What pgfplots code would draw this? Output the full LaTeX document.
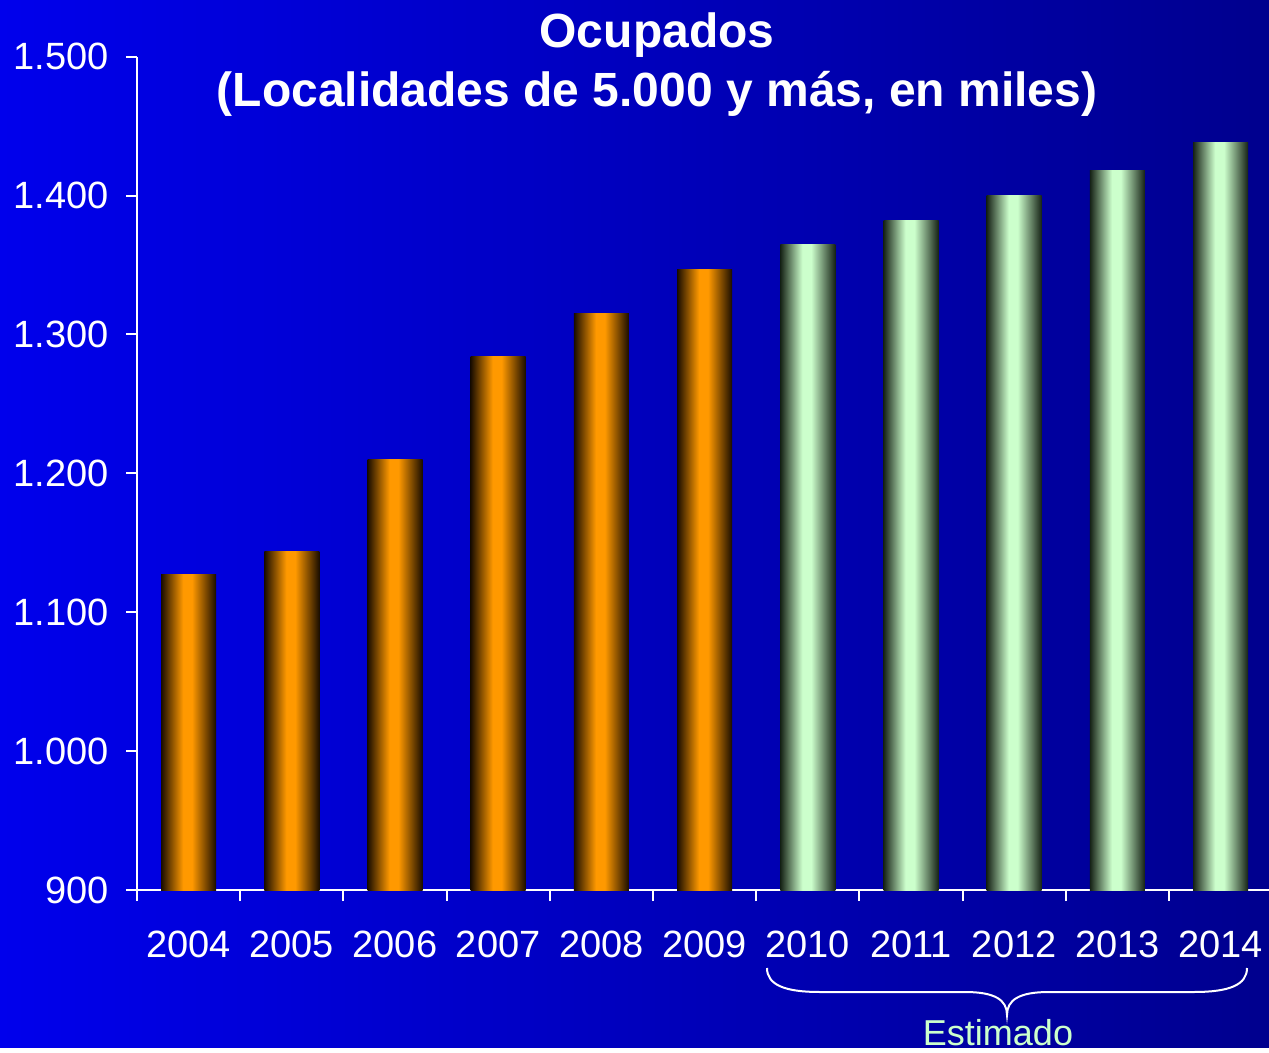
\documentclass[border=0pt]{standalone}
\usepackage{pgfplots}
\pgfplotsset{compat=1.18}
\usepackage{fontspec}
\setmainfont{Liberation Sans}
\definecolor{bgL}{RGB}{0,0,236}
\definecolor{bgR}{RGB}{0,0,142}
\definecolor{orng}{RGB}{255,153,0}
\definecolor{odark}{RGB}{26,13,0}
\definecolor{lgreen}{RGB}{204,255,204}
\definecolor{gdark}{RGB}{22,34,22}
\pgfdeclarehorizontalshading{orangebar}{100bp}{color(0bp)=(odark); color(25bp)=(odark); color(45bp)=(orng); color(53bp)=(orng); color(75bp)=(odark); color(100bp)=(odark)}
\pgfdeclarehorizontalshading{greenbar}{100bp}{color(0bp)=(gdark); color(25bp)=(gdark); color(45bp)=(lgreen); color(53bp)=(lgreen); color(75bp)=(gdark); color(100bp)=(gdark)}
\pgfplotsset{
  obar/.style={ybar, bar width=27.5pt, bar shift=0pt, draw=none, shading=orangebar},
  gbar/.style={ybar, bar width=27.5pt, bar shift=0pt, draw=none, shading=greenbar},
}
\begin{document}
\begin{tikzpicture}
\begin{scope}[x=0.5pt,y=-0.5pt]
\useasboundingbox (0,0) rectangle (1269,1047);
\shade[left color=bgL, right color=bgR] (0,0) rectangle (1269,1047);
\end{scope}
\begin{scope}
\clip (0pt,0pt) rectangle (634.5pt,-523.5pt);
\begin{axis}[
  at={(68.5pt,-445pt)}, anchor=south west,
  scale only axis, width=567.6pt, height=416.7pt,
  xmin=-0.5, xmax=10.5, ymin=900, ymax=1500,
  axis x line*=bottom, axis y line*=left,
  axis line style={white, line width=1pt},
  xtick={0,...,10},
  xticklabels={2004,2005,2006,2007,2008,2009,2010,2011,2012,2013,2014},
  major x tick style={draw=none},
  minor xtick={-0.5,0.5,...,10.5},
  ytick={900,1000,...,1500},
  yticklabels={900,1.000,1.100,1.200,1.300,1.400,1.500},
  tick align=outside,
  tick style={white, line width=1pt},
  major tick length=5.5pt, minor tick length=5.5pt,
  ticklabel style={font=\fontsize{19}{22}\selectfont, text=white},
  xticklabel style={anchor=base, yshift=-28pt},
  yticklabel style={anchor=east, xshift=-5pt},
]
% Observed 2004-2009
\addplot[obar] coordinates {(0,1127)};
\addplot[obar] coordinates {(1,1144)};
\addplot[obar] coordinates {(2,1210)};
\addplot[obar] coordinates {(3,1284)};
\addplot[obar] coordinates {(4,1315)};
\addplot[obar] coordinates {(5,1347)};
% Estimated 2010-2014
\addplot[gbar] coordinates {(6,1365)};
\addplot[gbar] coordinates {(7,1382)};
\addplot[gbar] coordinates {(8,1400)};
\addplot[gbar] coordinates {(9,1418)};
\addplot[gbar] coordinates {(10,1438)};
\end{axis}
\end{scope}
\begin{scope}[x=0.5pt,y=-0.5pt]
\node[anchor=base, text=white, font=\bfseries\fontsize{24}{28}\selectfont] at (657,48) {Ocupados};
\node[anchor=base, text=white, font=\bfseries\fontsize{24}{28}\selectfont] at (657,107) {(Localidades de 5.000 y más, en miles)};
\draw[white, line width=1pt] (767,968) .. controls (767,985) and (785,992) .. (820,992) -- (965,992) .. controls (995,992) and (1007,1000) .. (1007,1015) .. controls (1007,1000) and (1019,992) .. (1049,992) -- (1194,992) .. controls (1229,992) and (1247,985) .. (1247,968);
\node[anchor=base, text=lgreen, font=\fontsize{18}{22}\selectfont] at (998,1045) {Estimado};
\end{scope}
\end{tikzpicture}
\end{document}
